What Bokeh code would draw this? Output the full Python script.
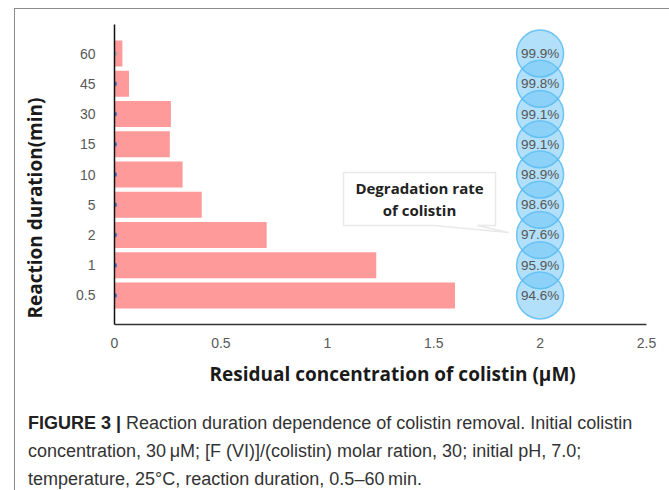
from bokeh.plotting import figure
from bokeh.layouts import column
from bokeh.models import Range1d, FixedTicker, Label, PolyAnnotation, ColumnDataSource, Title, Div
from bokeh.embed import file_html
from bokeh.resources import INLINE
from bokeh.core.properties import value

# ---- data ----
durations = ["0.5", "1", "2", "5", "10", "15", "30", "45", "60"]
residual = [1.60, 1.23, 0.715, 0.41, 0.32, 0.26, 0.265, 0.068, 0.037]
degradation = ["94.6%", "95.9%", "97.6%", "98.6%", "98.9%", "99.1%", "99.1%", "99.8%", "99.9%"]
x_ticks = [0, 0.5, 1, 1.5, 2, 2.5]
x_tick_labels = ["0", "0.5", "1", "1.5", "2", "2.5"]

idx = list(range(len(durations)))
src = ColumnDataSource(dict(
    y=idx, res=residual, deg=degradation,
    zero=[0] * len(idx), bx=[2.0] * len(idx),
    dot=["#4a6fc9"] * (len(idx) - 1) + ["#9aa3b5"],
))

p = figure(width=650, height=385, output_backend="svg", toolbar_location=None,
           x_range=Range1d(0, 2.5), y_range=Range1d(-0.96, 8.96),
           min_border_left=99, min_border_right=19, min_border_top=15,
           min_border_bottom=70)
p.outline_line_color = None
p.xgrid.grid_line_color = None
p.ygrid.grid_line_color = None
p.background_fill_color = "white"
p.border_fill_color = "white"

# bars
p.hbar(y="y", right="res", left=0, height=0.86, source=src,
       fill_color="#ff9a9a", line_color=None)
# small markers at the axis
p.scatter(x="zero", y="y", source=src, size=5, fill_color="dot", line_color=None)
# bubbles
p.scatter(x="bx", y="y", source=src, size=47, fill_color="#66c2f5", fill_alpha=0.5,
          line_color="#5bbcf2", line_width=1.5, line_alpha=0.85)
p.text(x="bx", y="y", text="deg", source=src, text_align="center",
       text_baseline="middle", text_font=value("Liberation Sans"),
       text_font_size="13.5px", text_color="#555555")

# axes
xa = p.xaxis[0]
xa.ticker = FixedTicker(ticks=x_ticks)
xa.major_label_overrides = {t: l for t, l in zip(x_ticks, x_tick_labels)}
xa.axis_line_color = "#333333"
xa.axis_line_width = 1.5
xa.major_tick_line_color = None
xa.minor_tick_line_color = None
xa.major_label_standoff = 7
xa.major_label_text_font = "Liberation Sans"
xa.major_label_text_font_size = "14px"
xa.major_label_text_color = "#595959"

ya = p.yaxis[0]
ya.ticker = FixedTicker(ticks=idx)
ya.major_label_overrides = {i: d for i, d in zip(idx, durations)}
ya.axis_line_color = "#111111"
ya.axis_line_width = 1.5
ya.major_tick_line_color = None
ya.minor_tick_line_color = None
ya.major_label_standoff = 13
ya.major_label_text_font = "Liberation Sans"
ya.major_label_text_font_size = "14px"
ya.major_label_text_color = "#595959"
# blank spacer label so the title sits further out
ya.axis_label = " "
ya.axis_label_text_font_size = "12.5px"
ya.axis_label_standoff = 7

p.add_layout(Title(text="Reaction duration(min)", align="left", offset=6, standoff=3,
                   text_font="Open Sans", text_font_size="19px", text_font_style="bold",
                   text_color="#1a1a1a"), "left")
p.add_layout(Title(text="Residual concentration of colistin (\u03bcM)", align="left",
                   offset=95, standoff=16, text_font="Open Sans", text_font_size="19px",
                   text_font_style="bold", text_color="#1a1a1a"), "below")

# helpers converting page pixel placement to data units for the callout
def dx(px):
    return (px - 114) / 212.8

def dy(py):
    return (295 - py) / 30.25

box_x = [dx(343), dx(495), dx(495), dx(477), dx(508), dx(433), dx(343)]
box_y = [dy(172), dy(172), dy(225), dy(225), dy(232), dy(225), dy(225)]
p.add_layout(PolyAnnotation(xs=box_x, ys=box_y, fill_color="white", fill_alpha=1.0,
                            line_color="#b5b5b5", line_width=1.5))
for txt, py in [("Degradation rate", 188), ("of colistin", 210)]:
    p.add_layout(Label(x=dx(419), y=dy(py), text=txt, text_align="center",
                       text_baseline="middle", text_font="Open Sans",
                       text_font_size="15px", text_font_style="bold", text_color="#222222"))

caption = Div(width=650, height=95, text=(
    "<div style=\"font-family:'Liberation Sans',Arial,sans-serif;font-size:18px;"
    "line-height:28px;color:#333333;padding:10px 0 0 8px;white-space:nowrap\">"
    "<b style=\"color:#222222\">FIGURE 3 |</b> Reaction duration dependence of colistin removal. "
    "Initial colistin<br>concentration, 30\u2009\u03bcM; [F (VI)]/(colistin) molar ration, 30; "
    "initial pH, 7.0;<br>temperature, 25\u00b0C, reaction duration, 0.5\u201360\u2009min.</div>"))

layout = column(p, caption, spacing=0)
layout.styles = {"margin-left": "14px", "margin-top": "8px",
                 "border-left": "1px solid #8c8c8c", "border-top": "1px solid #8c8c8c",
                 "border-right": "1px solid #8c8c8c", "background": "white"}

open("out.html", "w").write(file_html(layout, INLINE))
